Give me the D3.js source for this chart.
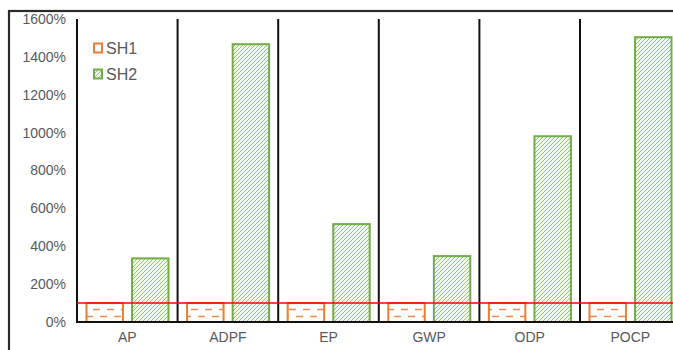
<!DOCTYPE html>
<html><head><meta charset="utf-8">
<script src="https://cdn.jsdelivr.net/npm/d3@7"></script>
<style>body{margin:0;background:#fff}svg{display:block}</style>
</head><body><svg id="c" width="673" height="350"></svg>
<script>
const categories = ["AP","ADPF","EP","GWP","ODP","POCP"];
const seriesNames = ["SH1","SH2"];
const sh1 = [100,100,100,100,100,100];
const sh2 = [336,1467,517,348,981,1504];
const yTicks = [0,200,400,600,800,1000,1200,1400,1600];
const refLine = 100;

(function(){
const svg = d3.select("#c");
const plotLeft = 77, plotTop = 19, plotBottom = 322, catW = 100.6;
const x = d3.scaleBand().domain(categories).range([plotLeft, plotLeft + catW*categories.length]).padding(0);
const xi = d3.scaleBand().domain(seriesNames).range([9.5, 91.5]).paddingInner(0.2);
const y = d3.scaleLinear().domain([0,1600]).range([plotBottom, plotTop]);
const font = "Liberation Sans, Arial, sans-serif";

const defs = svg.append("defs");
const po = defs.append("pattern").attr("id","pOr").attr("patternUnits","userSpaceOnUse")
  .attr("width",14).attr("height",14);
po.append("rect").attr("width",14).attr("height",14).attr("fill","#fff");
po.append("line").attr("x1",2).attr("x2",9).attr("y1",8.5).attr("y2",8.5).attr("stroke","#F08A48").attr("stroke-width",1.5);
po.append("line").attr("x1",-5).attr("x2",2).attr("y1",1.5).attr("y2",1.5).attr("stroke","#F08A48").attr("stroke-width",1.5);
po.append("line").attr("x1",9).attr("x2",16).attr("y1",1.5).attr("y2",1.5).attr("stroke","#F08A48").attr("stroke-width",1.5);
const pg = defs.append("pattern").attr("id","pGr").attr("patternUnits","userSpaceOnUse")
  .attr("width",4).attr("height",4);
pg.append("rect").attr("width",4).attr("height",4).attr("fill","#f3f8ef");
pg.append("path").attr("d","M-1,1 L1,-1 M0,4 L4,0 M3,5 L5,3").attr("stroke","#8CBF6A").attr("stroke-width",0.9);

// frame
svg.append("rect").attr("x",9).attr("y",11).attr("width",700).attr("height",360)
  .attr("fill","none").attr("stroke","#2a2a2a").attr("stroke-width",2.2);

// y axis labels
const yAxis = d3.axisLeft(y).tickValues(yTicks).tickFormat(d => d + "%").tickSize(0).tickPadding(11);
const ga = svg.append("g").attr("transform",`translate(${plotLeft},0)`).call(yAxis);
ga.select(".domain").remove();
ga.selectAll("text").attr("fill","#595959").style("font-family",font).style("font-size","14px");

// bars
const data = categories.map((c,i)=>({c, SH1: sh1[i], SH2: sh2[i]}));
const g = svg.append("g");
data.forEach(d=>{
  g.append("rect").attr("x", x(d.c)+xi("SH1")).attr("width", xi.bandwidth())
    .attr("y", y(d.SH1)).attr("height", y(0)-y(d.SH1))
    .attr("fill","url(#pOr)").attr("stroke","#ED7D31").attr("stroke-width",2);
  g.append("rect").attr("x", x(d.c)+xi("SH2")).attr("width", xi.bandwidth())
    .attr("y", y(d.SH2)).attr("height", y(0)-y(d.SH2))
    .attr("fill","url(#pGr)").attr("stroke","#70AD47").attr("stroke-width",2);
});

// separators
categories.forEach((c,i)=>{
  svg.append("line").attr("x1",x(c)).attr("x2",x(c)).attr("y1",plotTop).attr("y2",plotBottom)
    .attr("stroke","#111").attr("stroke-width",2);
});
// red reference line
svg.append("line").attr("x1",plotLeft).attr("x2",690).attr("y1",y(refLine)).attr("y2",y(refLine))
  .attr("stroke","#FF0000").attr("stroke-width",1.6);
// baseline
svg.append("line").attr("x1",plotLeft-1).attr("x2",690).attr("y1",y(0)).attr("y2",y(0))
  .attr("stroke","#111").attr("stroke-width",2);

// x labels
const xAxis = d3.axisBottom(x).tickSize(0).tickPadding(10);
const gx = svg.append("g").attr("transform",`translate(0,${plotBottom})`).call(xAxis);
gx.select(".domain").remove();
gx.selectAll("text").attr("fill","#595959").style("font-family",font).style("font-size","14px");

// legend
const leg = svg.append("g");
seriesNames.forEach((s,i)=>{
  const ly = 48 + i*26;
  leg.append("rect").attr("x",94).attr("y",ly-4.5).attr("width",8).attr("height",9)
    .attr("fill", i===0 ? "#fff" : "url(#pGr)").attr("stroke", i===0 ? "#ED7D31" : "#70AD47").attr("stroke-width",2);
  leg.append("text").attr("x",106).attr("y",ly).attr("dy","0.35em").text(s)
    .attr("fill","#595959").style("font-family",font).style("font-size","16px");
});
})();
</script></body></html>
